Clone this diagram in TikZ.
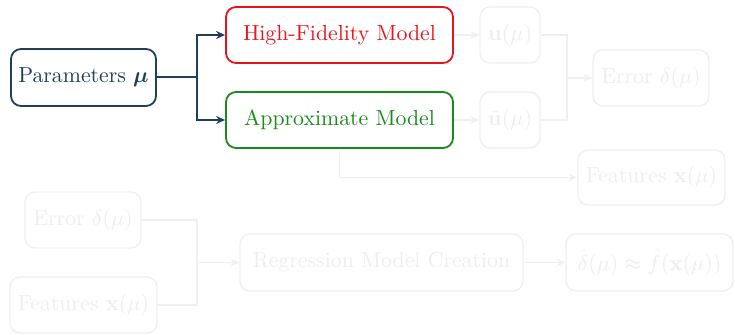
\documentclass[tikz,border=0pt]{standalone}
\usepackage{amsmath,bm}
\usetikzlibrary{arrows.meta}
\definecolor{pblue}{HTML}{1F3F5F}
\definecolor{pred}{HTML}{E8141C}
\definecolor{pgreen}{HTML}{1A8A1A}
\definecolor{fadeline}{HTML}{F0F0F0}
\definecolor{fadetext}{HTML}{EEEEEE}
\begin{document}
\begin{tikzpicture}[x=0.5pt,y=-0.5pt,
  box/.style={draw, rounded corners=5pt, line width=0.9pt, inner sep=0pt, align=center,
    font=\fontsize{10.9}{13}\selectfont},
  fbox/.style={box, draw=fadeline, text=fadetext, line width=0.7pt},
  pline/.style={draw=pblue, line width=1pt},
  parrow/.style={pline, -{Stealth[length=4.5pt,width=4pt,inset=1.5pt]}},
  fline/.style={draw=fadeline, line width=0.7pt},
  farrow/.style={fline, -{Stealth[length=4.5pt,width=4pt,inset=1.5pt]}}]
\useasboundingbox (0,0) rectangle (735,335);
\fill[white] (0,0) rectangle (735,335);
% main nodes
\node[box, draw=pblue, text=pblue, minimum width=72.5pt, minimum height=28.5pt] (par) at (83.5,77.5) {Parameters $\boldsymbol{\mu}$};
\node[box, draw=pred, text=pred, minimum width=113.5pt, minimum height=28pt] (hf) at (339.5,35) {High-Fidelity Model};
\node[box, draw=pgreen, text=pgreen, minimum width=113.5pt, minimum height=28pt] (am) at (339.5,120) {Approximate Model};
% faded nodes
\node[fbox, minimum width=30pt, minimum height=28pt] (u) at (510,35) {$\mathbf{u}(\mu)$};
\node[fbox, minimum width=30pt, minimum height=28pt] (ut) at (510,120) {$\tilde{\mathbf{u}}(\mu)$};
\node[fbox, minimum width=58pt, minimum height=28pt] (err) at (651,78) {Error $\delta(\mu)$};
\node[fbox, minimum width=73.5pt, minimum height=27.5pt] (feat) at (651.5,177.5) {Features $\mathbf{x}(\mu)$};
\node[fbox, minimum width=58pt, minimum height=28pt] (err2) at (83,220) {Error $\delta(\mu)$};
\node[fbox, minimum width=73.5pt, minimum height=28pt] (feat2) at (83.5,305) {Features $\mathbf{x}(\mu)$};
\node[fbox, minimum width=141.5pt, minimum height=28.5pt] (reg) at (381.5,262.5) {Regression Model Creation};
\node[fbox, minimum width=83.5pt, minimum height=28.5pt] (hat) at (649.5,262.5) {$\hat{\delta}(\mu)\approx\hat{f}(\mathbf{x}(\mu))$};
% main connectors
\coordinate (j1) at (197,77.5);
\draw[pline] (par.east) -- (j1);
\draw[parrow] (j1) |- (hf.west);
\draw[parrow] (j1) |- (am.west);
% faded connectors
\draw[farrow] (hf.east) -- (u.west);
\draw[farrow] (am.east) -- (ut.west);
\coordinate (j2) at (567,78);
\draw[fline] (u.east) -| (j2);
\draw[fline] (ut.east) -| (j2);
\draw[farrow] (j2) -- (err.west);
\draw[farrow] (am.south) |- (feat.west);
\coordinate (j3) at (197,262.5);
\draw[fline] (err2.east) -| (j3);
\draw[fline] (feat2.east) -| (j3);
\draw[farrow] (j3) -- (reg.west);
\draw[farrow] (reg.east) -- (hat.west);
\end{tikzpicture}
\end{document}
